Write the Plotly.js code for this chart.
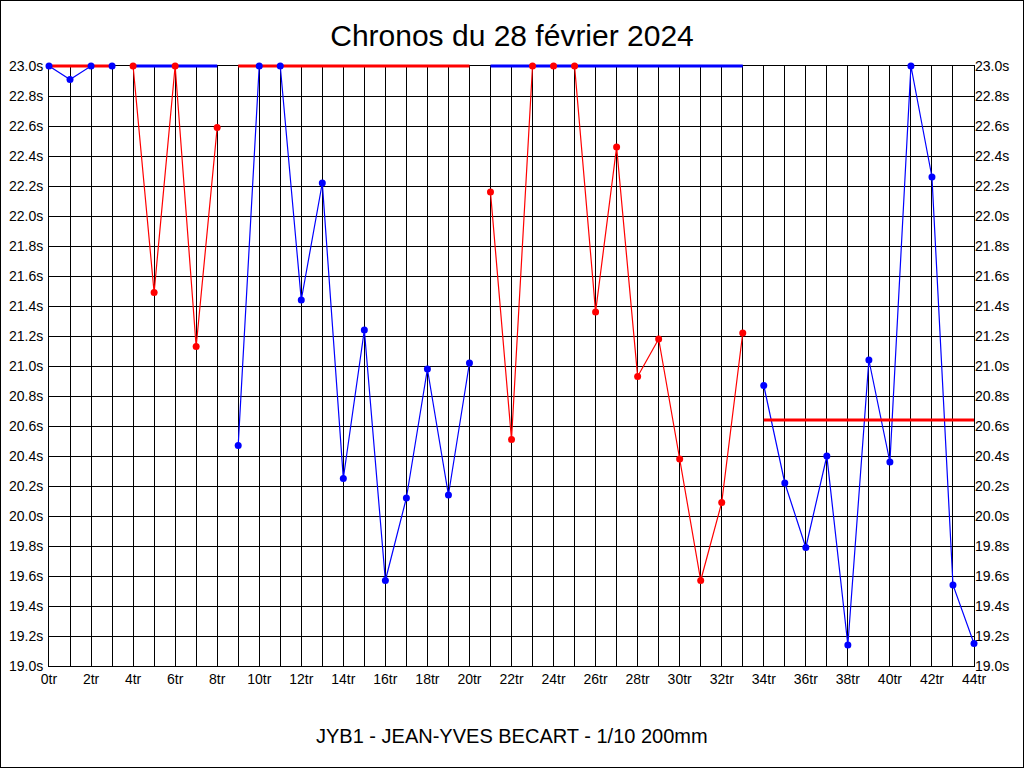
<!DOCTYPE html>
<html>
<head>
<meta charset="utf-8">
<script src="https://cdn.plot.ly/plotly-3.0.1.min.js"></script>
<style>
  html, body { margin: 0; padding: 0; background: #fff; }
  #chrono { width: 1022px; height: 766px; border: 1px solid #000; }
</style>
</head>
<body>
<div id="chrono"></div>
<script>
// laps (tr) and lap times (s), one pair per run; 23.0 = off the top of the scale
const lapsA = [0, 1, 2, 3];
const timesA = [23.0, 22.91, 23.0, 23.0];
const lapsB = [4, 5, 6, 7, 8];
const timesB = [23.0, 21.49, 23.0, 21.13, 22.59];
const lapsC = [9, 10, 11, 12, 13, 14, 15, 16, 17, 18, 19, 20];
const timesC = [20.47, 23.0, 23.0, 21.44, 22.22, 20.25, 21.24, 19.57, 20.12, 20.98, 20.14, 21.02];
const lapsD = [21, 22, 23, 24, 25, 26, 27, 28, 29, 30, 31, 32, 33];
const timesD = [22.16, 20.51, 23.0, 23.0, 23.0, 21.36, 22.46, 20.93, 21.18, 20.38, 19.57, 20.09, 21.22];
const lapsE = [34, 35, 36, 37, 38, 39, 40, 41, 42, 43, 44];
const timesE = [20.87, 20.22, 19.79, 20.40, 19.14, 21.04, 20.36, 23.0, 22.26, 19.54, 19.15];

// mean line drawn across each run
const meanA = 23.0;
const meanB = 23.0;
const meanC = 23.0;
const meanD = 23.0;
const meanE = 20.64;

const xTickVals = [0, 2, 4, 6, 8, 10, 12, 14, 16, 18, 20, 22, 24, 26, 28, 30, 32, 34, 36, 38, 40, 42, 44];
const xTickText = xTickVals.map(v => v + 'tr');
const yTickVals = [19.0, 19.2, 19.4, 19.6, 19.8, 20.0, 20.2, 20.4, 20.6, 20.8, 21.0, 21.2, 21.4, 21.6, 21.8, 22.0, 22.2, 22.4, 22.6, 22.8, 23.0];
const yTickText = yTickVals.map(v => v.toFixed(1) + 's');

const BLUE = '#0000ff';
const RED = '#ff0000';

const runs = [
    {x: lapsA, y: timesA, mean: meanA, color: BLUE, meanColor: RED},
    {x: lapsB, y: timesB, mean: meanB, color: RED, meanColor: BLUE},
    {x: lapsC, y: timesC, mean: meanC, color: BLUE, meanColor: RED},
    {x: lapsD, y: timesD, mean: meanD, color: RED, meanColor: BLUE},
    {x: lapsE, y: timesE, mean: meanE, color: BLUE, meanColor: RED}
];

// the data is drawn on a second subplot a few px taller than the grid,
// so lines and dots sitting on 23.0 are not cut in half
const PAD = 5;           // px above and below the grid
const GRID_H = 600;      // px height of the grid area
const padUnits = PAD * (23.0 - 19.0) / GRID_H;

const data = [];
// grid carrier and right-hand labels
data.push({x: [0], y: [19], mode: 'markers', marker: {opacity: 0}, hoverinfo: 'skip', showlegend: false});
data.push({x: [0], y: [19], yaxis: 'y2', mode: 'markers', marker: {opacity: 0},
    hoverinfo: 'skip', showlegend: false});
// thin lines first, then the thick mean lines, then the dots on top
runs.forEach(r => {
    data.push({x: r.x, y: r.y, xaxis: 'x3', yaxis: 'y3', mode: 'lines',
        line: {color: r.color, width: 1.2}, hoverinfo: 'skip', showlegend: false});
});
runs.forEach(r => {
    data.push({x: [r.x[0], r.x[r.x.length - 1]], y: [r.mean, r.mean], xaxis: 'x3', yaxis: 'y3',
        mode: 'lines', line: {color: r.meanColor, width: 3}, hoverinfo: 'skip', showlegend: false});
});
runs.forEach(r => {
    data.push({x: r.x, y: r.y, xaxis: 'x3', yaxis: 'y3', mode: 'markers', cliponaxis: false,
        marker: {color: r.color, size: 7}, showlegend: false});
});

const tickFont = {family: 'Arial, "Liberation Sans", sans-serif', size: 14, color: '#000'};
const paperH = GRID_H + 2 * PAD;
const yDom = [PAD / paperH, 1 - PAD / paperH];

const layout = {
    width: 1022,
    height: 766,
    margin: {l: 48, r: 49, t: 65 - PAD, b: 101 - PAD},
    paper_bgcolor: '#fff',
    plot_bgcolor: 'rgba(0,0,0,0)',
    showlegend: false,
    title: {
        text: 'Chronos du 28 février 2024',
        font: {family: 'Arial, "Liberation Sans", sans-serif', size: 30, color: '#000'},
        x: 0.5, xanchor: 'center',
        y: 1 - 34 / 766, yref: 'container', yanchor: 'middle'
    },
    xaxis: {
        range: [0, 44],
        tickvals: xTickVals,
        ticktext: xTickText,
        tickfont: {family: '"Liberation Sans Narrow", "Arial Narrow", Arial, sans-serif', size: 14, color: '#000'},
        ticks: '',
        showgrid: true,
        gridcolor: '#000',
        gridwidth: 1,
        minor: {dtick: 1, showgrid: true, gridcolor: '#000', gridwidth: 1},
        showline: true, linecolor: '#000', linewidth: 1, mirror: true,
        zeroline: false,
        fixedrange: true
    },
    yaxis: {
        domain: yDom,
        range: [19.0, 23.0],
        tickvals: yTickVals,
        ticktext: yTickText,
        tickfont: tickFont,
        ticks: '',
        ticklabelstandoff: 2,
        showgrid: true,
        gridcolor: '#000',
        gridwidth: 1,
        showline: true, linecolor: '#000', linewidth: 1, mirror: true,
        zeroline: false,
        fixedrange: true
    },
    yaxis2: {
        range: [19.0, 23.0],
        overlaying: 'y',
        side: 'right',
        tickvals: yTickVals,
        ticktext: yTickText,
        tickfont: tickFont,
        ticks: '',
        showgrid: false,
        zeroline: false,
        showline: false,
        fixedrange: true
    },
    xaxis3: {
        anchor: 'y3',
        range: [0, 44],
        visible: false,
        fixedrange: true
    },
    yaxis3: {
        anchor: 'x3',
        domain: [0, 1],
        range: [19.0 - padUnits, 23.0 + padUnits],
        visible: false,
        fixedrange: true
    },
    annotations: [{
        text: 'JYB1 - JEAN-YVES BECART - 1/10 200mm',
        xref: 'paper', yref: 'paper',
        x: 0.5, y: -(735 - (766 - 101 + PAD)) / paperH,
        xanchor: 'center', yanchor: 'middle',
        showarrow: false,
        font: {family: 'Arial, "Liberation Sans", sans-serif', size: 20, color: '#000'}
    }]
};

Plotly.newPlot('chrono', data, layout, {displayModeBar: false, staticPlot: true});
</script>
</body>
</html>
